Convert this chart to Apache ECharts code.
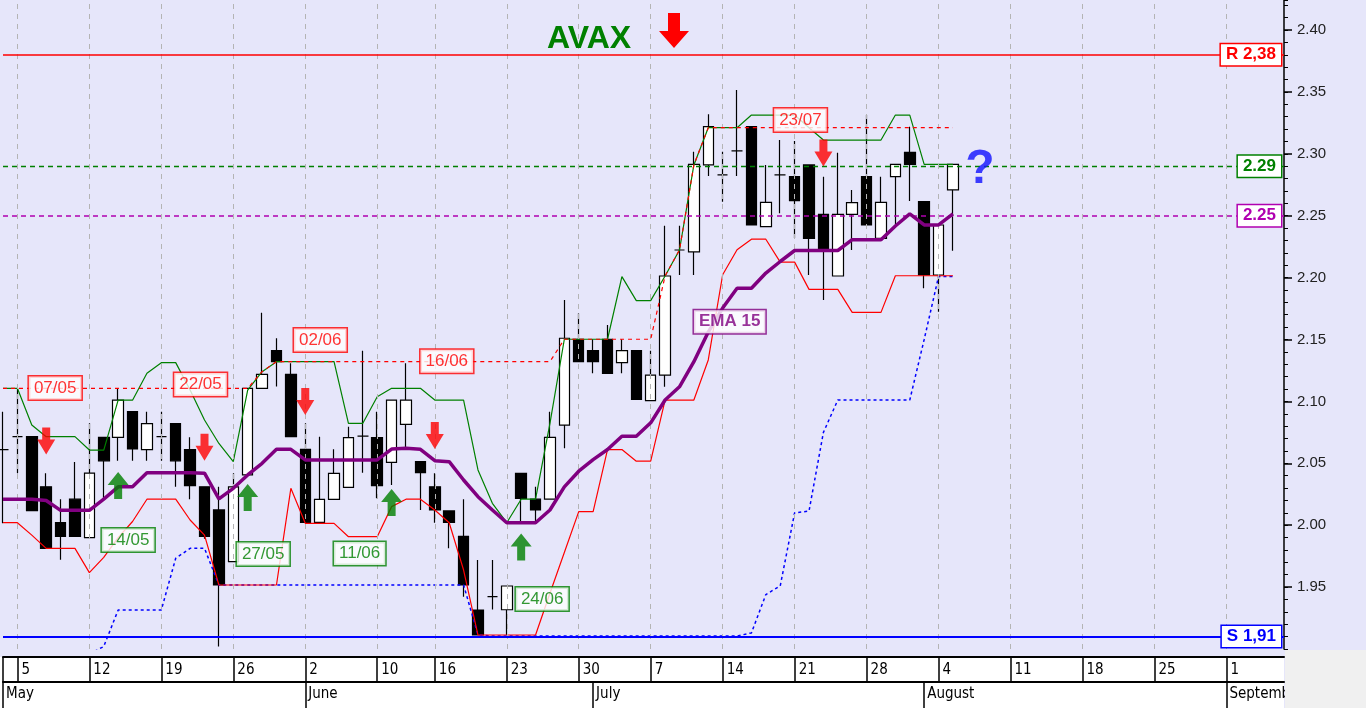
<!DOCTYPE html>
<html><head><meta charset="utf-8">
<script src="https://cdn.jsdelivr.net/npm/echarts@6/dist/echarts.min.js"></script>
<style>html,body{margin:0;padding:0;background:#E6E6FA}#c{width:1366px;height:708px}</style>
</head><body><div id="c"></div>
<script>
// trading days shown on the axis (2025)
const dates = ['05-02','05-05','05-06','05-07','05-08','05-09','05-12','05-13','05-14','05-15','05-16',
'05-19','05-20','05-21','05-22','05-23','05-26','05-27','05-28','05-29','05-30',
'06-02','06-03','06-04','06-05','06-06','06-10','06-11','06-12','06-13',
'06-16','06-17','06-18','06-19','06-20','06-23','06-24','06-25','06-26','06-27','06-30',
'07-01','07-02','07-03','07-04','07-07','07-08','07-09','07-10','07-11',
'07-14','07-15','07-16','07-17','07-18','07-21','07-22','07-23','07-24','07-25',
'07-28','07-29','07-30','07-31','08-01','08-04','08-05','08-06','08-07','08-08',
'08-11','08-12','08-13','08-14','08-15','08-18','08-19','08-20','08-21','08-22',
'08-25','08-26','08-27','08-28','08-29','09-01','09-02','09-03','09-04','09-05'];
const monthNames = ['January','February','March','April','May','June','July','August','September','October','November','December'];

const opens = [2.061,2.0715,2.0715,2.031,2.002,2.021,1.990,2.071,2.071,2.0917,2.061,2.0715,2.082,2.061,2.031,2.0123,1.9706,2.0406,2.1106,2.141,2.1219,
2.0613,2.0023,2.0209,2.0306,2.072,2.0707,2.0508,2.0815,2.0513,2.031,2.0115,1.991,1.9315,1.9423,1.9317,2.0419,2.021,2.021,2.0809,2.1502,
2.141,2.1502,2.1313,2.141,2.1006,2.1213,2.2223,2.2207,2.291,2.2829,2.3023,2.3219,2.2411,2.2829,2.2815,2.291,2.2511,2.2013,2.2511,
2.2815,2.2317,2.2815,2.3012,2.2613,2.2021,2.2708];
const closes = [2.061,2.0715,2.0117,1.9813,1.991,1.991,2.042,2.052,2.101,2.0616,2.082,2.0715,2.052,2.032,1.991,1.9517,2.031,2.1106,2.1219,2.1321,2.0715,
2.0023,2.0209,2.0419,2.0707,2.072,2.0319,2.1011,2.1011,2.0424,2.0123,2.0023,1.9517,1.9113,1.9423,1.9509,2.0217,2.0123,2.071,2.151,2.1321,
2.1321,2.1227,2.141,2.1017,2.1213,2.2013,2.2223,2.2915,2.3219,2.2829,2.3023,2.2425,2.2608,2.2829,2.2621,2.2317,2.2223,2.2511,2.2605,
2.2425,2.2608,2.2915,2.2915,2.2021,2.2425,2.2915];
const lows = [2.0015,2.0419,2.0117,1.9813,1.972,1.991,1.990,2.021,2.052,2.052,2.052,2.052,2.031,2.021,1.989,1.902,1.9706,2.0406,2.1106,2.112,2.0715,
2.0023,2.0023,2.0209,2.0306,2.0424,2.0217,2.0325,2.0621,2.0123,2.002,1.9813,1.9423,1.9113,1.932,1.9113,2.002,2.002,2.021,2.0621,2.1321,
2.1227,2.1227,2.1227,2.1017,2.1006,2.1119,2.2021,2.2021,2.2821,2.2613,2.2821,2.2425,2.2411,2.252,2.2317,2.2021,2.1819,2.2013,2.2223,
2.2425,2.2317,2.2425,2.2619,2.1914,2.1725,2.2217];
const highs = [2.0917,2.1106,2.0715,2.0419,2.021,2.051,2.0823,2.071,2.1106,2.0917,2.0917,2.0917,2.082,2.071,2.031,2.031,2.0419,2.1106,2.1717,2.151,2.1308,
2.0823,2.0715,2.0613,2.0796,2.141,2.0917,2.1011,2.1308,2.0513,2.0419,2.0115,2.021,1.9719,1.9719,1.9509,2.0419,2.031,2.0917,2.1819,2.1711,
2.1502,2.1617,2.1502,2.141,2.141,2.2419,2.2419,2.3017,2.3319,2.3017,2.3515,2.3219,2.291,2.3111,2.3103,2.291,2.2815,2.3009,2.2708,
2.3313,2.2815,2.2915,2.3219,2.2613,2.2425,2.2915];

const ema15 = [2.021,2.021,2.021,2.020,2.012,2.012,2.012,2.021,2.031,2.031,2.0424,2.0424,2.0424,2.0424,2.042,2.0213,2.0298,2.0406,2.05,2.0613,2.0613,
2.0527,2.0527,2.0527,2.0527,2.0527,2.0527,2.0615,2.0621,2.0613,2.0521,2.0513,2.0365,2.023,2.0123,2.002,2.002,2.002,2.0123,2.031,2.0436,
2.053,2.0611,2.0719,2.0719,2.0827,2.1011,2.1118,2.1321,2.156,2.1754,2.1914,2.1914,2.2037,2.213,2.2219,2.2219,2.2219,2.2219,2.2306,
2.2306,2.2306,2.2417,2.2514,2.2425,2.2425,2.2514];
const upperBand = [2.1106,2.1106,2.081,2.0715,2.0715,2.0715,2.0607,2.0607,2.101,2.101,2.1227,2.1313,2.1313,2.1092,2.085,2.066,2.0513,2.1092,2.124,2.1321,2.1321,
2.1321,2.1321,2.1321,2.0823,2.0823,2.1038,2.1106,2.1106,2.1106,2.1011,2.1011,2.1011,2.0446,2.0177,2.002,2.021,2.021,2.0823,2.1502,2.1502,
2.1502,2.1502,2.2008,2.1814,2.1814,2.2013,2.2223,2.291,2.3211,2.3211,2.3211,2.3313,2.3313,2.3313,2.3313,2.3211,2.3111,2.3111,2.3111,
2.3111,2.3111,2.3313,2.3313,2.2915,2.2915,2.2915];
const lowerBand = [2.002,2.002,1.992,1.9813,1.9813,1.9813,1.9617,1.974,1.99,2.003,2.021,2.021,2.021,2.0042,1.992,1.9517,1.9517,1.9517,1.9517,1.9517,2.0298,
2.0015,2.0015,2.0015,1.9907,1.9907,1.9907,2.015,2.021,2.021,2.0123,2.002,1.9638,1.9113,1.9113,1.9113,1.9113,1.9113,1.945,1.978,2.011,
2.011,2.0611,2.0611,2.0517,2.0517,2.1011,2.1011,2.1011,2.1335,2.2023,2.2225,2.231,2.231,2.2125,2.2125,2.1905,2.1905,2.1905,2.1719,
2.1719,2.1719,2.2015,2.2015,2.2015,2.2015,2.2015];
const trailStop = [null,null,null,null,null,null,1.896,1.902,1.9315,1.9315,1.9315,1.9315,1.9733,1.9813,1.9813,1.9517,1.9517,1.9517,1.9517,1.9517,1.9517,
1.9517,1.9517,1.9517,1.9517,1.9517,1.9517,1.9517,1.9517,1.9517,1.9517,1.9517,1.9517,1.9113,1.9105,1.9105,1.9105,1.9105,1.9105,1.9105,1.9105,
1.9105,1.9105,1.9105,1.9105,1.9105,1.9105,1.9105,1.9105,1.9105,1.9105,1.9105,1.913,1.944,1.951,2.01,2.0114,2.075,2.1011,2.1011,
2.1011,2.1011,2.1011,2.1011,2.15,2.2009,2.2009];
const resistLine = [2.1106,2.1106,2.1106,2.1106,2.1106,2.1106,2.1106,2.1106,2.1106,2.1106,2.1106,2.1106,2.1106,2.1106,2.1106,2.1106,2.1106,2.1106,2.124,2.1321,2.1321,
2.1321,2.1321,2.1321,2.1321,2.1321,2.1321,2.1321,2.1321,2.1321,2.1321,2.1321,2.1321,2.1321,2.1321,2.1321,2.1321,2.1321,2.1321,2.1502,2.1502,
2.1502,2.1502,2.1502,2.1502,2.1502,2.2013,2.2223,2.291,2.3211,2.3211,2.3211,2.3211,2.3211,2.3211,2.3211,2.3211,2.3211,2.3211,2.3211,
2.3211,2.3211,2.3211,2.3211,2.3211,2.3211,2.3211];

const levelValues = [2.38, 2.29, 2.25, 1.91];
const levelTexts = ['R 2,38', '2.29', '2.25', 'S 1,91'];
const lastPrice = 2.29;
const lastPriceText = '2.29000';

const downSignals = [['05-07',2.068],['05-22',2.063],['06-02',2.100],['06-16',2.0725],['07-23',2.3006]];
const upSignals = [['05-14',2.032],['05-27',2.0224],['06-11',2.0183],['06-24',1.9824]];
const highNotes = [['07/05','05-07',2.1108],['22/05','05-22',2.1136],['02/06','06-02',2.1496],['16/06','06-16',2.1325],['23/07','07-23',2.3273]];
const lowNotes = [['14/05','05-14',1.988],['27/05','05-27',1.9767],['11/06','06-11',1.9771],['24/06','06-24',1.9404]];
const emaNote = ['EMA 15','07-14',2.1644];
const questionNote = ['?','08-06',2.2868];

// layout / style (not data)
const highOffsets = [9,-4,15,12,-23];
const lowOffsets = [10,15.5,-32,21];
const axisFont = '"DejaVu Sans Condensed", "Liberation Sans", sans-serif';

const dow = d => new Date('2025-' + d + 'T00:00:00').getDay();
const weekStart = dates.map((d,i) => i === 0 || dow(d) < dow(dates[i-1]));
const monthStart = dates.map((d,i) => i === 0 || d.slice(0,2) !== dates[i-1].slice(0,2));

const candles = opens.map((o,i) => [o, closes[i], lows[i], highs[i]]);

const downPath = 'path://M5 0L13 0L13 12L18 12L9 27L0 12L5 12Z';
const upPath = 'path://M10.5 0L21 13L14.5 13L14.5 27L6.5 27L6.5 13L0 13Z';

function boxLabel(text, color, dx, bold) {
  return {
    show: true, position: 'inside', formatter: text, offset: [dx, 0],
    color: color, fontSize: 17, fontWeight: bold ? 'bold' : 'normal', fontFamily: 'Liberation Sans',
    backgroundColor: '#ffffff', borderColor: color, borderWidth: 1.5, padding: [3, 5]
  };
}

const levelColors = ['#ff0000', '#008000', '#b000b0', '#0000ff'];
const levelTypes = ['solid', [5,4], [5,4], 'solid'];
const levelWidths = [1.5, 1.3, 1.5, 2];
const levelLines = levelValues.map((v,i) => ({
  yAxis: v,
  lineStyle: { color: levelColors[i], type: levelTypes[i], width: levelWidths[i], opacity: 1 },
  label: { show: true, position: 'insideEnd', distance: 3, formatter: levelTexts[i],
    color: levelColors[i], fontSize: 17, fontWeight: 'bold', fontFamily: 'Liberation Sans',
    backgroundColor: '#ffffff', borderColor: levelColors[i], borderWidth: 1.5, padding: [2, 5] }
}));
levelLines.push({
  yAxis: lastPrice,
  lineStyle: { opacity: 0 },
  label: { show: true, position: 'end', distance: 8, formatter: lastPriceText,
    color: '#00e000', fontSize: 15, fontFamily: 'Liberation Sans',
    backgroundColor: '#000000', borderColor: '#ffffff', borderWidth: 1, padding: [3, 4] }
});

const option = {
  animation: false,
  backgroundColor: '#E6E6FA',
  title: {
    text: 'AVAX', left: 542, top: 18,
    textStyle: { fontSize: 32, fontWeight: 'bold', color: '#008000', fontFamily: 'Liberation Sans' }
  },
  grid: { left: 3, top: 0, width: 1281, height: 649 },
  xAxis: [
    {
      type: 'category', data: dates, position: 'bottom', offset: 8, boundaryGap: false,
      axisLine: { show: true, lineStyle: { color: '#000', width: 2 } },
      axisTick: { show: true, length: 25, interval: (i) => weekStart[i],
        lineStyle: { color: '#000', width: 1.5 } },
      axisLabel: { interval: (i) => weekStart[i], formatter: (v, i) => i === 0 ? '' : String(Number(v.slice(3))),
        align: 'left', padding: [0, 0, 0, 4], margin: 6, fontSize: 15, color: '#000', fontFamily: axisFont },
      splitLine: { show: false }
    },
    {
      type: 'category', data: dates, position: 'bottom', offset: 33, boundaryGap: false,
      axisLine: { show: true, lineStyle: { color: '#000', width: 2 } },
      axisTick: { show: true, length: 26, interval: (i) => monthStart[i],
        lineStyle: { color: '#000', width: 1.5 } },
      axisLabel: { interval: (i) => monthStart[i], formatter: (v) => monthNames[Number(v.slice(0,2)) - 1],
        align: 'left', padding: [0, 0, 0, 3], margin: 5, fontSize: 15, color: '#000', fontFamily: axisFont },
      splitLine: { show: false }
    }
  ],
  yAxis: [
    {
      type: 'value', position: 'right', min: 1.90, max: 2.42423, interval: 0.05, scale: true,
      axisLine: { show: true, lineStyle: { color: '#000', width: 1.5 } },
      axisTick: { show: true, inside: false, length: 8, lineStyle: { color: '#000', width: 1.5 } },
      axisLabel: { formatter: (v) => v.toFixed(2), showMinLabel: false, showMaxLabel: false, margin: 13,
        fontSize: 15, color: '#222', fontFamily: 'Liberation Sans' },
      splitLine: { show: false }
    },
    {
      type: 'value', position: 'right', min: 1.90, max: 2.42423, interval: 0.01, scale: true,
      axisLine: { show: false },
      axisTick: { show: true, inside: false, length: 4, lineStyle: { color: '#000', width: 1 } },
      axisLabel: { show: false },
      splitLine: { show: false }
    }
  ],
  graphic: [
    { type: 'rect', z: -1, shape: { x: 0, y: 657, width: 1284, height: 51 }, style: { fill: '#ffffff' } },
    { type: 'rect', z: 100, shape: { x: 1285, y: 650, width: 81, height: 58 }, style: { fill: '#f0f0f0' } },
    { type: 'polygon', z: 100, shape: { points: [[668,13],[680,13],[680,31],[689,31],[674,48],[659,31],[668,31]] },
      style: { fill: '#ff0000' } }
  ],
  series: [
    {
      name: 'weeks', type: 'line', data: [], z: 1, silent: true,
      markLine: { silent: true, symbol: 'none', label: { show: false },
        lineStyle: { color: '#b4b4b4', type: [5,5], width: 1 },
        data: dates.map((d,i) => (weekStart[i] && i > 0) ? { xAxis: d } : null).filter(Boolean) }
    },
    {
      name: 'levels', type: 'line', data: [], z: 2, silent: true,
      markLine: { silent: true, symbol: 'none', data: levelLines }
    },
    {
      name: 'AVAX', type: 'candlestick', data: candles, barWidth: 11, z: 3,
      itemStyle: { color: '#ffffff', color0: '#000000', borderColor: '#000000', borderColor0: '#000000',
        borderColorDoji: '#000000', borderWidth: 1.2 }
    },
    { name: 'stop', type: 'line', data: trailStop, z: 4, symbol: 'none', connectNulls: false,
      lineStyle: { color: '#0000ff', width: 1.5, type: [3,3] } },
    { name: 'upper', type: 'line', data: upperBand, z: 4, symbol: 'none',
      lineStyle: { color: '#008000', width: 1.2 } },
    { name: 'lower', type: 'line', data: lowerBand, z: 4, symbol: 'none',
      lineStyle: { color: '#ff0000', width: 1.2 } },
    { name: 'resist', type: 'line', data: resistLine, z: 5, symbol: 'none',
      lineStyle: { color: '#ff0000', width: 1.2, type: [4,4] } },
    { name: 'EMA 15', type: 'line', data: ema15, z: 6, symbol: 'none',
      lineStyle: { color: '#800080', width: 3.5 } },
    { name: 'down', type: 'scatter', z: 8, symbol: downPath, symbolSize: [18, 27],
      itemStyle: { color: '#ff0000' }, data: downSignals },
    { name: 'up', type: 'scatter', z: 8, symbol: upPath, symbolSize: [21, 27],
      itemStyle: { color: '#008000' }, data: upSignals },
    { name: 'notes', type: 'scatter', z: 9, symbolSize: 1, itemStyle: { color: 'rgba(0,0,0,0)' },
      data: [
        ...highNotes.map((n,i) => ({ value: [n[1], n[2]], label: boxLabel(n[0], '#ff0000', highOffsets[i], false) })),
        ...lowNotes.map((n,i) => ({ value: [n[1], n[2]], label: boxLabel(n[0], '#008000', lowOffsets[i], false) })),
        { value: [emaNote[1], emaNote[2]], label: boxLabel(emaNote[0], '#800080', 7, true) },
        { value: [questionNote[1], questionNote[2]], label: { show: true, position: 'inside', formatter: questionNote[0],
          offset: [12.5, 0], fontSize: 48, fontWeight: 'bold', color: '#1010ff', fontFamily: 'Liberation Sans' } }
      ] }
  ]
};
const chart = echarts.init(document.getElementById('c'));
chart.setOption(option);
</script></body></html>
